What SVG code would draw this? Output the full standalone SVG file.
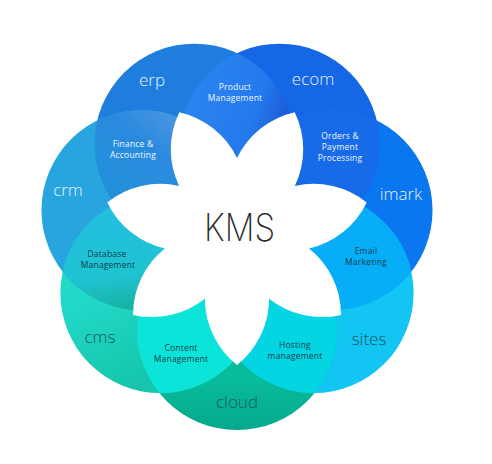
<svg xmlns="http://www.w3.org/2000/svg" width="492" height="464" viewBox="0 0 492 464">
<defs>
  <clipPath id="k-erp"><circle cx="194.48" cy="143.70" r="100"/></clipPath>
  <clipPath id="k-ecom"><circle cx="279.52" cy="143.70" r="100"/></clipPath>
  <clipPath id="k-imark"><circle cx="332.54" cy="210.19" r="100"/></clipPath>
  <clipPath id="k-sites"><circle cx="313.62" cy="293.10" r="100"/></clipPath>
  <clipPath id="k-cloud"><circle cx="237" cy="330" r="100"/></clipPath>
  <clipPath id="k-cms"><circle cx="160.38" cy="293.10" r="100"/></clipPath>
  <clipPath id="k-crm"><circle cx="141.46" cy="210.19" r="100"/></clipPath>
  <linearGradient id="g-prod" gradientUnits="userSpaceOnUse" x1="195" y1="80" x2="295" y2="110">
    <stop offset="0" stop-color="#2b84ef"/><stop offset="0.65" stop-color="#2479ec"/><stop offset="1" stop-color="#1a55d4"/>
  </linearGradient>
  <linearGradient id="g-fin" gradientUnits="userSpaceOnUse" x1="170" y1="110" x2="110" y2="180">
    <stop offset="0" stop-color="#4a96e2"/><stop offset="0.45" stop-color="#2b8ade"/><stop offset="1" stop-color="#2390dc"/>
  </linearGradient>
  <linearGradient id="g-db" gradientUnits="userSpaceOnUse" x1="110" y1="215" x2="125" y2="315">
    <stop offset="0" stop-color="#22bfde"/><stop offset="0.6" stop-color="#1fc3d2"/><stop offset="1" stop-color="#17ae9a"/>
  </linearGradient>
  <linearGradient id="g-cloud" gradientUnits="userSpaceOnUse" x1="237" y1="380" x2="237" y2="430">
    <stop offset="0" stop-color="#07bb9b"/><stop offset="1" stop-color="#04a98a"/>
  </linearGradient>
  <linearGradient id="g-cms" gradientUnits="userSpaceOnUse" x1="80" y1="300" x2="120" y2="390">
    <stop offset="0" stop-color="#22d8c8"/><stop offset="1" stop-color="#15c6ac"/>
  </linearGradient>
  <style>
    .outer{font-family:"Open Sans","DejaVu Sans",sans-serif;font-size:17px;font-weight:300;text-anchor:middle}
    .inner{font-family:"Open Sans","DejaVu Sans",sans-serif;font-size:8.5px;text-anchor:middle;letter-spacing:0.2px}
    .lt{fill:#e4f1ff}
    .dk{fill:#165a62}
    .il{fill:#eef6ff}
    .id{fill:#103f4a}
  </style>
</defs>

<g id="erp"><circle cx="194.48" cy="143.70" r="100" fill="#1f7ddd"/><text class="outer lt" x="152" y="86">erp</text></g>
<g id="ecom"><circle cx="279.52" cy="143.70" r="100" fill="#1567e5"/><text class="outer lt" x="313" y="85">ecom</text></g>
<g id="imark"><circle cx="332.54" cy="210.19" r="100" fill="#0a76f0"/><text class="outer lt" x="401" y="200">imark</text></g>
<g id="sites"><circle cx="313.62" cy="293.10" r="100" fill="#12c5f3"/><text class="outer dk" x="369" y="345">sites</text></g>
<g id="cloud"><circle cx="237" cy="330" r="100" fill="url(#g-cloud)"/><text class="outer dk" x="237" y="408">cloud</text></g>
<g id="cms"><circle cx="160.38" cy="293.10" r="100" fill="url(#g-cms)"/><text class="outer dk" x="100" y="343">cms</text></g>
<g id="crm"><circle cx="141.46" cy="210.19" r="100" fill="#28a5de"/><text class="outer lt" x="68" y="196">crm</text></g>

<g id="product-management"><circle cx="279.52" cy="143.70" r="100" clip-path="url(#k-erp)" fill="url(#g-prod)"/>
  <text class="inner il" x="235" y="89.5">Product</text><text class="inner il" x="235" y="100.5">Management</text></g>
<g id="orders-payment"><circle cx="332.54" cy="210.19" r="100" clip-path="url(#k-ecom)" fill="#176ae8"/>
  <text class="inner il" x="340" y="138.5">Orders &amp;</text><text class="inner il" x="340" y="149.5">Payment</text><text class="inner il" x="340" y="160.5">Processing</text></g>
<g id="email-marketing"><circle cx="313.62" cy="293.10" r="100" clip-path="url(#k-imark)" fill="#08adf8"/>
  <text class="inner id" x="366" y="254">Email</text><text class="inner id" x="366" y="265">Marketing</text></g>
<g id="hosting-management"><circle cx="237" cy="330" r="100" clip-path="url(#k-sites)" fill="#04d5e3"/>
  <text class="inner id" x="295" y="348">Hosting</text><text class="inner id" x="295" y="359">management</text></g>
<g id="content-management"><circle cx="160.38" cy="293.10" r="100" clip-path="url(#k-cloud)" fill="#0de4d9"/>
  <text class="inner id" x="181" y="351">Content</text><text class="inner id" x="181" y="362">Management</text></g>
<g id="database-management"><circle cx="141.46" cy="210.19" r="100" clip-path="url(#k-cms)" fill="url(#g-db)"/>
  <text class="inner id" x="107" y="256.5">Database</text><text class="inner id" x="108" y="267.5">Management</text></g>
<g id="finance-accounting"><circle cx="194.48" cy="143.70" r="100" clip-path="url(#k-crm)" fill="url(#g-fin)"/>
  <text class="inner il" x="133" y="146.5">Finance &amp;</text><text class="inner il" x="133" y="157.5">Accounting</text></g>

<g id="kms">
  <path fill="#ffffff" d="M237,158 A85,85 0 0 1 294.7,112.2 A85,85 0 0 1 294.9,185.9 A85,85 0 0 1 366.7,202.4 A85,85 0 0 1 309.1,248.5 A85,85 0 0 1 341.0,314.9 A85,85 0 0 1 269.1,298.7 A85,85 0 0 1 237,365 A85,85 0 0 1 204.9,298.7 A85,85 0 0 1 133.0,314.9 A85,85 0 0 1 164.9,248.5 A85,85 0 0 1 107.3,202.4 A85,85 0 0 1 179.1,185.9 A85,85 0 0 1 179.3,112.2 A85,85 0 0 1 237,158 Z"/>
  <text x="239.5" y="241" font-family="Inter,'DejaVu Sans',sans-serif" font-size="38" font-weight="200" fill="#2a2a2a" text-anchor="middle" textLength="71" lengthAdjust="spacingAndGlyphs">KMS</text>
</g>
</svg>
